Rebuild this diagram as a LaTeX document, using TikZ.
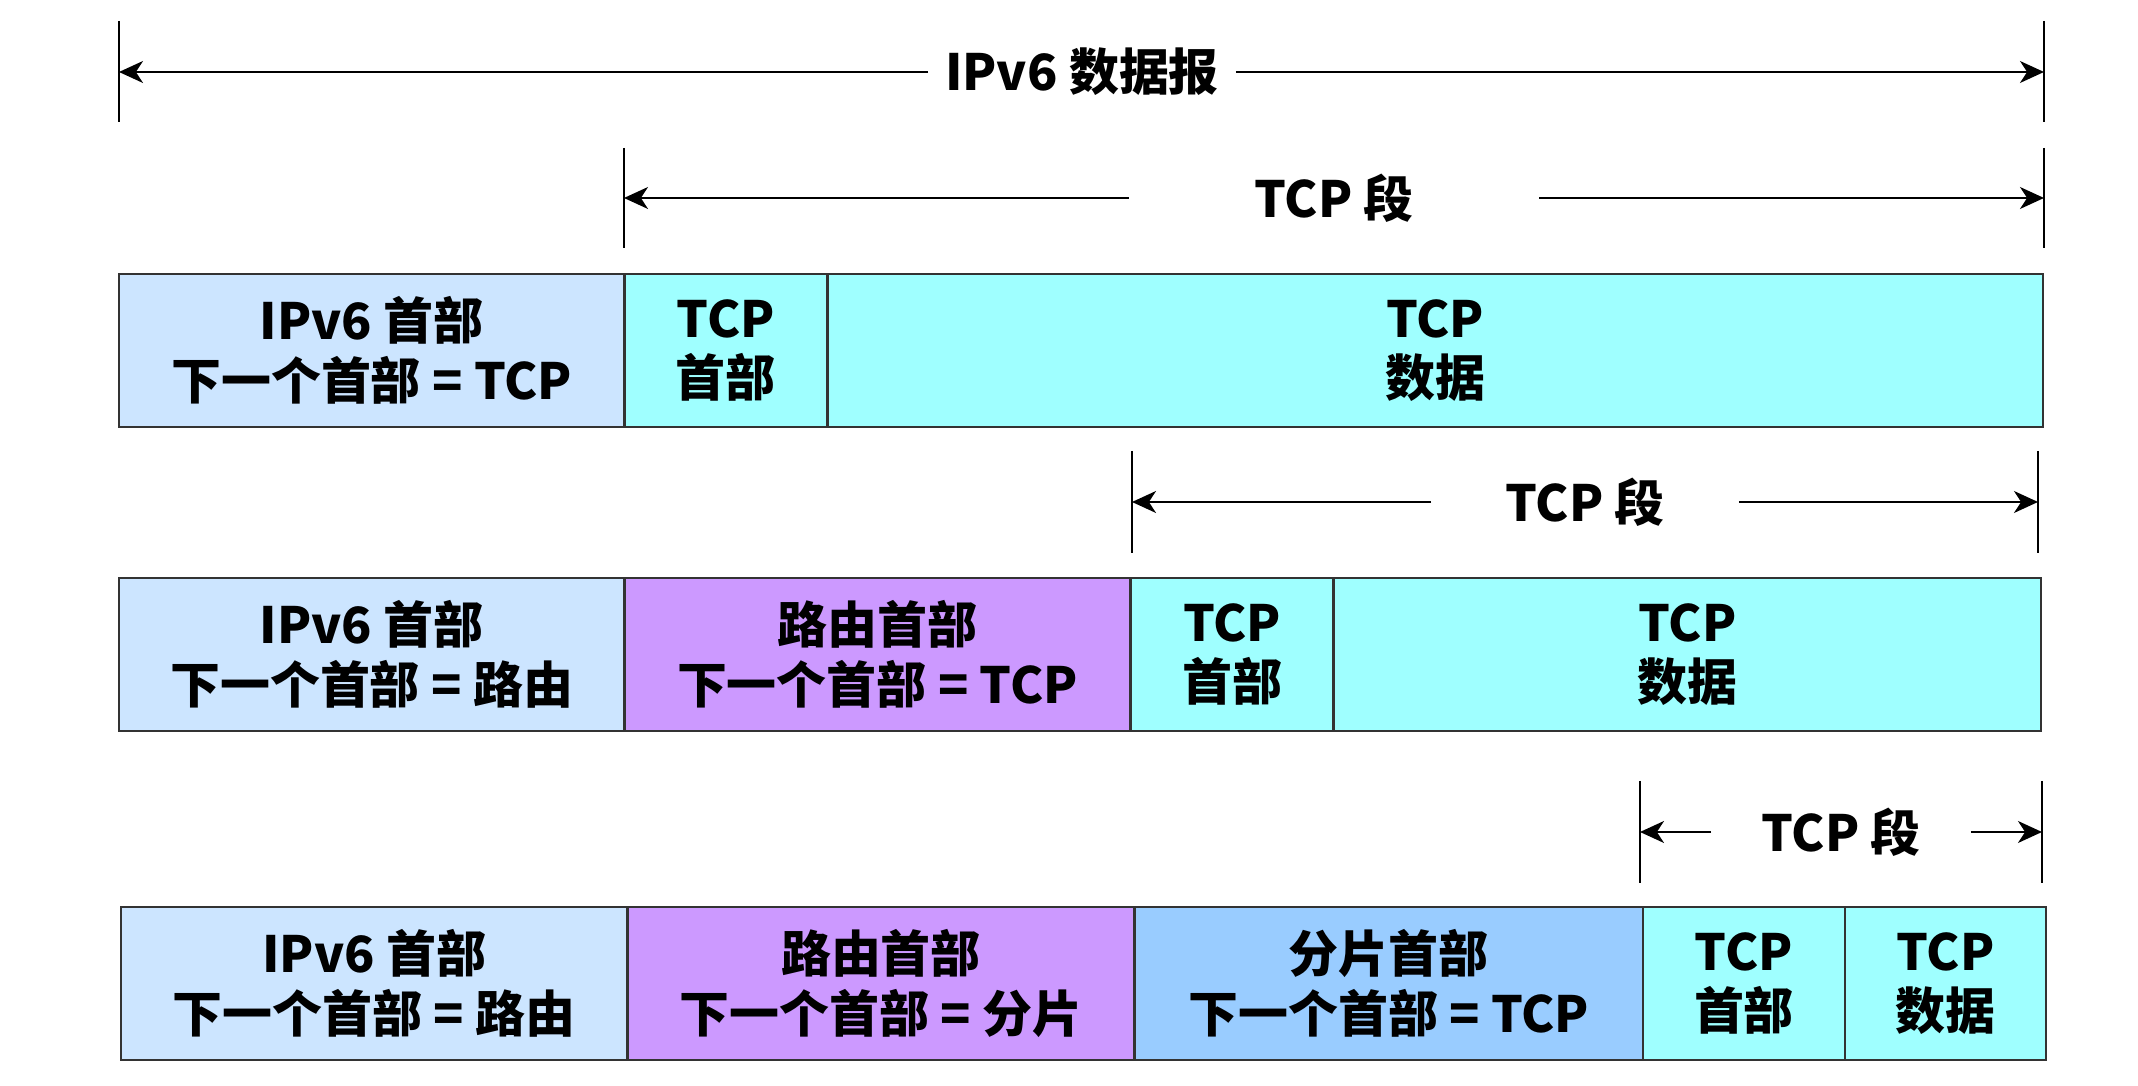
\documentclass[tikz,border=0pt]{standalone}
\usepackage{fontspec}
\setmainfont{Noto Sans CJK SC}
\usetikzlibrary{arrows.meta,positioning}

\definecolor{iphdr}{HTML}{CCE5FF}
\definecolor{tcpcyan}{HTML}{9FFFFF}
\definecolor{routehdr}{HTML}{CC99FF}
\definecolor{fraghdr}{HTML}{99CCFF}
\definecolor{edgegray}{HTML}{333333}

\tikzset{
    lbl/.style={font=\fontsize{14.2}{17}\selectfont\bfseries, align=center},
    field/.style={lbl, draw=edgegray, line width=0.7pt, minimum height=1.53cm,
        inner sep=0pt, outer sep=0pt},
    seglabel/.style={lbl, inner sep=0pt},
    dimarrow/.style={line width=0.8pt, -{Stealth[length=6.8pt,width=6.2pt,inset=2pt]}},
    tick/.style={line width=0.6pt}
}

\begin{document}
\begin{tikzpicture}[x=0.01cm, y=-0.01cm]
    \useasboundingbox (0,0) rectangle (2138,1086);

    % whole datagram
    \node[seglabel, minimum width=3.06cm] (dg) at (1082,72) {IPv6 数据报};
    \coordinate (dgL) at (119,72);
    \coordinate (dgR) at (2044,72);
    \draw[tick] (119,21) -- (119,122);
    \draw[tick] (2044,21) -- (2044,122);
    \draw[dimarrow] (dg) -- (dgL);
    \draw[dimarrow] (dg) -- (dgR);

    % TCP segment, first row
    \node[seglabel, minimum width=4.09cm] (sgA) at (1334,198) {TCP 段};
    \coordinate (sgAL) at (624,198);
    \coordinate (sgAR) at (2044,198);
    \draw[tick] (624,148) -- (624,248);
    \draw[tick] (2044,148) -- (2044,248);
    \draw[dimarrow] (sgA) -- (sgAL);
    \draw[dimarrow] (sgA) -- (sgAR);

    % row 1: no extension header
    \node[field, fill=iphdr, minimum width=5.05cm, anchor=north west] (ipA) at (119,274) {IPv6 首部\\下一个首部 = TCP};
    \node[field, fill=tcpcyan, minimum width=2.03cm, right=0pt of ipA] (thA) {TCP\\首部};
    \node[field, fill=tcpcyan, minimum width=12.15cm, right=0pt of thA] (tdA) {TCP\\数据};

    % TCP segment, second row
    \node[seglabel, minimum width=3.06cm] (sgB) at (1585,502) {TCP 段};
    \coordinate (sgBL) at (1132,502);
    \coordinate (sgBR) at (2038,502);
    \draw[tick] (1132,451) -- (1132,553);
    \draw[tick] (2038,451) -- (2038,553);
    \draw[dimarrow] (sgB) -- (sgBL);
    \draw[dimarrow] (sgB) -- (sgBR);

    % row 2: routing header
    \node[field, fill=iphdr, minimum width=5.05cm, anchor=north west] (ipB) at (119,578) {IPv6 首部\\下一个首部 = 路由};
    \node[field, fill=routehdr, minimum width=5.06cm, right=0pt of ipB] (rtB) {路由首部\\下一个首部 = TCP};
    \node[field, fill=tcpcyan, minimum width=2.03cm, right=0pt of rtB] (thB) {TCP\\首部};
    \node[field, fill=tcpcyan, minimum width=7.07cm, right=0pt of thB] (tdB) {TCP\\数据};

    % TCP segment, third row
    \node[seglabel, minimum width=2.58cm] (sgC) at (1841,832) {TCP 段};
    \coordinate (sgCL) at (1640,832);
    \coordinate (sgCR) at (2042,832);
    \draw[tick] (1640,781) -- (1640,883);
    \draw[tick] (2042,781) -- (2042,883);
    \draw[dimarrow] (sgC) -- (sgCL);
    \draw[dimarrow] (sgC) -- (sgCR);

    % row 3: routing and fragment headers
    \node[field, fill=iphdr, minimum width=5.06cm, anchor=north west] (ipC) at (121,907) {IPv6 首部\\下一个首部 = 路由};
    \node[field, fill=routehdr, minimum width=5.07cm, right=0pt of ipC] (rtC) {路由首部\\下一个首部 = 分片};
    \node[field, fill=fraghdr, minimum width=5.08cm, right=0pt of rtC] (frC) {分片首部\\下一个首部 = TCP};
    \node[field, fill=tcpcyan, minimum width=2.02cm, right=0pt of frC] (thC) {TCP\\首部};
    \node[field, fill=tcpcyan, minimum width=2.01cm, right=0pt of thC] (tdC) {TCP\\数据};
\end{tikzpicture}
\end{document}
